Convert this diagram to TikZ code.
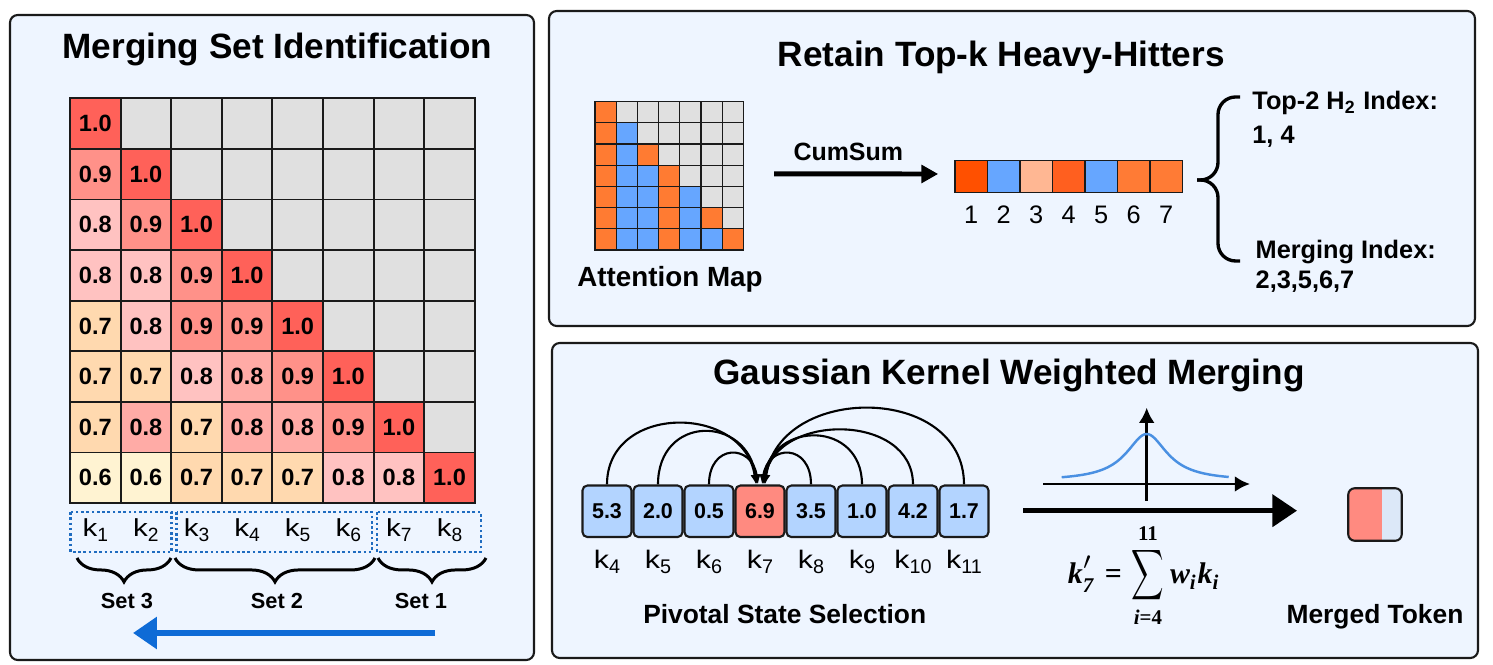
\documentclass[tikz,border=0pt]{standalone}
\usepackage{amsmath}
\usepackage[no-math]{fontspec}
\setmainfont{Liberation Sans}
\newfontfamily\eqfont{Liberation Serif}
\usetikzlibrary{arrows.meta,calc,positioning,decorations.pathreplacing}
\definecolor{panelbg}{HTML}{EEF5FF}
\definecolor{panelline}{HTML}{1A1A1A}
\definecolor{cellgray}{HTML}{E0E0E0}
\definecolor{simA}{HTML}{FF6159}
\definecolor{simB}{HTML}{FF9189}
\definecolor{simC}{HTML}{FFABA6}
\definecolor{simD}{HTML}{FFC2C1}
\definecolor{simE}{HTML}{FFD9AF}
\definecolor{simF}{HTML}{FFF3D2}
\definecolor{mapO}{HTML}{FF7B32}
\definecolor{mapB}{HTML}{66A6FF}
\definecolor{mapG}{HTML}{E0E0E0}
\definecolor{vecA}{HTML}{FF5000}
\definecolor{vecC}{HTML}{FFB793}
\definecolor{vecD}{HTML}{FF5F1F}
\definecolor{vecF}{HTML}{FF7B35}
\definecolor{tokblue}{HTML}{B3D4FF}
\definecolor{tokred}{HTML}{FF8A80}
\definecolor{mergeblue}{HTML}{DCE8F8}
\definecolor{setblue}{HTML}{1F6CC0}
\definecolor{arrowblue}{HTML}{0E6BD6}
\definecolor{curveblue}{HTML}{4A90E2}
\newcommand{\fsz}[1]{\fontsize{#1}{#1}\selectfont}
\newcommand{\ksub}[1]{\scalebox{1.2}[1]{k}\raisebox{-0.2em}{\scalebox{0.78}{#1}}}
\newcommand{\eqb}[1]{\text{\eqfont\bfseries\itshape\scalebox{0.85}{#1}}}
\newcommand{\eqn}[1]{\text{\eqfont\bfseries\scalebox{0.85}{#1}}}
\newcommand{\narrowsum}{\mathop{\scalebox{0.64}[1]{$\displaystyle\sum$}}\limits}
\newcommand{\mergeeq}{$\displaystyle \eqb{k}'_{\eqb{7}}\mathrel{\eqn{=}}\narrowsum_{\eqb{i}\eqn{=}\eqn{4}}^{\eqn{11}}\eqb{w}_{\eqb{i}}\eqb{k}_{\eqb{i}}$}

\begin{document}
\begin{tikzpicture}[x=0.01cm,y=-0.01cm,
    panel/.style={draw=panelline, line width=0.6pt, fill=panelbg, rounded corners=2.2pt},
    title/.style={font=\bfseries\fsz{10}, anchor=base, inner sep=0},
    cellval/.style={font=\bfseries\fsz{6.7}, inner sep=0},
    gridline/.style={panelline, line width=0.55pt, line cap=rect},
    klab/.style={font=\fsz{7}, anchor=base, inner sep=0},
    setbox/.style={setblue, line width=0.75pt, dash pattern=on 0.75pt off 0.75pt},
    brc/.style={decorate, decoration={brace, amplitude=6.8pt}, line width=0.85pt},
    setlab/.style={font=\bfseries\fsz{6.2}, anchor=base, inner sep=0},
    caption/.style={font=\bfseries\fsz{7.5}, anchor=base, inner sep=0},
    vcell/.style={draw=panelline, line width=0.45pt, minimum width=0.325cm, minimum height=0.32cm, inner sep=0},
    idxlab/.style={font=\fsz{7.2}, anchor=base, inner sep=0},
    idxtext/.style={font=\bfseries\fsz{7.2}, anchor=base west, inner sep=0},
    tok/.style={draw=panelline, line width=0.6pt, rounded corners=1.4pt, minimum width=0.49cm, minimum height=0.515cm, inner sep=0, font=\bfseries\fsz{6.1}},
    pivot/.style={line width=0.6pt, -{Latex[length=2.8pt,width=2.4pt]}},
    gaxis/.style={line width=0.8pt, -{Latex[length=4.3pt,width=4.5pt]}}]
  \useasboundingbox (0,0) rectangle (1493,665);
  % Panels
  \draw[panel] (10,15) rectangle (534,660);
  \draw[panel] (549,11) rectangle (1475,326);
  \draw[panel] (552,343) rectangle (1478,658);
  % Titles
  \node[title] (t1) at (277.5,58.5) {Merging Set Identification};
  \node[title] (t2) at (1001.3,66.7) {Retain Top-k Heavy-Hitters};
  \node[title] (t3) at (1009,385) {Gaussian Kernel Weighted Merging};

  % Similarity matrix
  \def\mx{70}\def\my{98.3}\def\mc{50.6}
  \fill[cellgray] (\mx,\my) rectangle ({\mx+8*\mc},{\my+8*\mc});
  \foreach \row [count=\r] in {{A/1.0},{B/0.9,A/1.0},{D/0.8,B/0.9,A/1.0},{D/0.8,D/0.8,B/0.9,A/1.0},
      {E/0.7,D/0.8,B/0.9,B/0.9,A/1.0},{E/0.7,E/0.7,D/0.8,C/0.8,B/0.9,A/1.0},
      {E/0.7,C/0.8,E/0.7,C/0.8,C/0.8,B/0.9,A/1.0},{F/0.6,F/0.6,E/0.7,E/0.7,E/0.7,D/0.8,D/0.8,A/1.0}}
    \foreach \s/\v [count=\c] in \row {
      \fill[fill=sim\s] ({\mx+(\c-1)*\mc},{\my+(\r-1)*\mc}) rectangle ++(\mc,\mc);
      \node[cellval] (v-\r-\c) at ({\mx+(\c-0.5)*\mc},{\my+(\r-0.5)*\mc}) {\v};
    }
  \foreach \i in {0,...,8} {
    \draw[gridline] ({\mx+\i*\mc},\my) -- ({\mx+\i*\mc},{\my+8*\mc});
    \draw[gridline] (\mx,{\my+\i*\mc}) -- ({\mx+8*\mc},{\my+\i*\mc});
  }
  % Keys and sets
  \foreach \i in {1,...,8}
    \node[klab] (key\i) at ({\mx+(\i-0.5)*\mc},536.7) {\ksub{\i}};
  \draw[setbox] (70.7,512) rectangle (171.7,552);
  \draw[setbox] (176.7,512) rectangle (372,552);
  \draw[setbox] (377,512) rectangle (481,552);
  \draw[brc] (171,558) -- (77,558);
  \draw[brc] (375,558) -- (175,558);
  \draw[brc] (486,558) -- (378,558);
  \node[setlab] (set3) at (127,609) {Set 3};
  \node[setlab] (set2) at (277,609) {Set 2};
  \node[setlab] (set1) at (421,609) {Set 1};
  % Direction arrow
  \coordinate (dirS) at (435,633);
  \coordinate (dirE) at (133,633);
  \draw[arrowblue, line width=1.7pt, -{Triangle[length=6.8pt,width=8.8pt]}] (dirS) -- (dirE);

  % Attention map
  \def\ax{595}\def\ay{101.7}\def\ac{21.2}
  \foreach \row [count=\r] in {{O,G,G,G,G,G,G},{O,B,G,G,G,G,G},{O,B,O,G,G,G,G},{O,B,B,O,G,G,G},
      {O,B,B,O,B,G,G},{O,B,B,O,B,O,G},{O,B,B,O,B,B,O}}
    \foreach \s [count=\c] in \row
      \filldraw[fill=map\s, draw=panelline, line width=0.35pt] ({\ax+(\c-1)*\ac},{\ay+(\r-1)*\ac}) rectangle ++(\ac,\ac);
  \node[minimum width=1.484cm, minimum height=1.484cm, inner sep=0] (attn) at ({\ax+3.5*\ac},{\ay+3.5*\ac}) {};
  \node[font=\bfseries\fsz{7.9}, anchor=base, inner sep=0] (attnlab) at (670,286.7) {Attention Map};
  % CumSum vector
  \foreach \f [count=\i] in {vecA,mapB,vecC,vecD,mapB,vecF,vecF} {
    \node[vcell, fill=\f] (cs\i) at ({955+(\i-0.5)*32.5},176.7) {};
    \node[idxlab] (idx\i) at ({955+(\i-0.5)*32.5},224) {\i};
  }
  \draw[line width=1.4pt, -{Triangle[length=4.8pt,width=5pt]}] ($(attn.east)+(30,-2)$) -- ($(cs1.west)+(-16,-2.7)$);
  \node[font=\bfseries\fsz{7.1}, anchor=base, inner sep=0] (cumsum) at (848.3,161) {CumSum};
  % Split brace
  \draw[line width=0.95pt, rounded corners=5] (1240,97) -- (1218,97) -- (1218,180) -- (1197,180);
  \draw[line width=0.95pt, rounded corners=5] (1240,261) -- (1218,261) -- (1218,180) -- (1197,180);
  \node[idxtext] (top2) at (1251.7,110) {Top-2 H\textsubscript{2} Index:};
  \node[idxtext] (topval) at (1251.7,144) {1, 4};
  \node[idxtext] (mrg) at (1255,258.3) {Merging Index:};
  \node[idxtext] (mrgval) at (1255,288.3) {2,3,5,6,7};

  % Pivotal tokens
  \foreach \v/\f [count=\i from 4] in {5.3/tokblue,2.0/tokblue,0.5/tokblue,6.9/tokred,3.5/tokblue,1.0/tokblue,4.2/tokblue,1.7/tokblue} {
    \node[tok, fill=\f] (k\i) at ({607+51*(\i-4)},511.3) {\v};
    \node[font=\fsz{7.2}, anchor=base, inner sep=0] (lk\i) at ({607+51*(\i-4)},568.3) {\ksub{\i}};
  }
  \foreach \s/\h/\dx/\cx in {4/81/-4/-12,5/70/-3/-10,6/41/-2/-6,8/41/2/6,9/64/3/10,10/72/4/12,11/101/5/14}
    \draw[pivot] (k\s.north) .. controls +(0,-\h) and +(\cx,-\h) .. ($(k7.north)+(\dx,0)$);
  \node[caption] (pivlab) at (784.7,623.3) {Pivotal State Selection};
  % Gaussian kernel
  \coordinate (gxL) at (1043.3,484);
  \coordinate (gxR) at (1250,484);
  \coordinate (gyB) at (1146.7,500.7);
  \coordinate (gyT) at (1146.7,407.7);
  \draw[gaxis] (gxL) -- (gxR);
  \draw[gaxis] (gyB) -- (gyT);
  \draw[curveblue, line width=0.7pt] plot[domain=-85:82, samples=80, smooth] ({1146.7+\x},{481-47/(1+(\x/25)^2)});
  \coordinate (gkS) at (1023,510.7);
  \coordinate (gkE) at (1297,510.7);
  \draw[line width=1.45pt, -{Triangle[length=7pt,width=9pt]}] (gkS) -- (gkE);
  \node[font=\fsz{10}, inner sep=0, anchor=north] (sumeq) at (1144,522) {\mergeeq};
  % Merged token
  \node[minimum width=0.52cm, minimum height=0.51cm, inner sep=0] (merged) at (1375,514.5) {};
  \begin{scope}
    \clip[rounded corners=1.8pt] (merged.south west) rectangle (merged.north east);
    \fill[tokred] (merged.south west) rectangle ($(merged.north west)+(34,0)$);
    \fill[mergeblue] ($(merged.south west)+(34,0)$) rectangle (merged.north east);
  \end{scope}
  \draw[panelline, line width=0.6pt, rounded corners=1.8pt] (merged.south west) rectangle (merged.north east);
  \node[caption] (mtok) at (1375,624) {Merged Token};
\end{tikzpicture}
\end{document}
